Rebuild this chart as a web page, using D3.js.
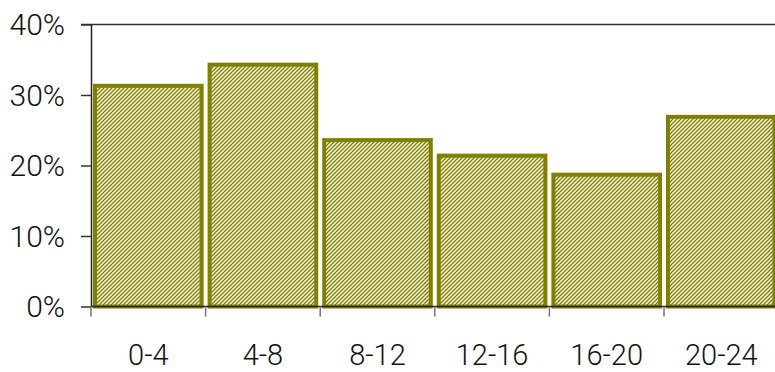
<!DOCTYPE html>
<html>
<head>
<meta charset="utf-8">
<script src="https://cdn.jsdelivr.net/npm/d3@7"></script>
<style>
  html, body { margin: 0; padding: 0; background: #fff; }
  svg { display: block; }
  text { font-family: Roboto, "Liberation Sans", sans-serif; font-weight: 300; fill: #111; }
</style>
</head>
<body>
<svg id="chart" width="775" height="372"></svg>
<script>
// Share of events by 4-hour interval of the day
const categories = ["0-4", "4-8", "8-12", "12-16", "16-20", "20-24"];
const values = [0.313, 0.343, 0.236, 0.214, 0.187, 0.269];
const yTicks = [0, 0.1, 0.2, 0.3, 0.4];

const svg = d3.select("#chart");
const plotLeft = 91, plotRight = 778.6, plotTop = 24.5, plotBottom = 306.5;

const x = d3.scaleBand().domain(categories).range([plotLeft, plotRight]).padding(0);
const y = d3.scaleLinear().domain([0, 0.4]).range([plotBottom, plotTop]);

// Hatched fill: olive upward diagonal on pale ground
const defs = svg.append("defs");
const pat = defs.append("pattern")
  .attr("id", "hatch")
  .attr("patternUnits", "userSpaceOnUse")
  .attr("width", 4).attr("height", 4);
pat.append("rect").attr("width", 4).attr("height", 4).attr("fill", "#f6f6e2");
pat.append("path")
  .attr("d", "M-1,1 l2,-2 M0,4 l4,-4 M3,5 l2,-2")
  .attr("stroke", "#808000").attr("stroke-width", 1.3);

// Bars
svg.append("g").selectAll("rect")
  .data(values)
  .join("rect")
  .attr("x", (d, i) => x(categories[i]) + 4)
  .attr("width", x.bandwidth() - 8)
  .attr("y", d => y(d))
  .attr("height", d => plotBottom - y(d))
  .attr("fill", "url(#hatch)")
  .attr("stroke", "#808000")
  .attr("stroke-width", 4);

// Top border line at the 40% level
svg.append("line")
  .attr("x1", plotLeft - 10).attr("x2", 775)
  .attr("y1", y(0.4)).attr("y2", y(0.4))
  .attr("stroke", "#333").attr("stroke-width", 1.5);

// Y axis
const yAxis = svg.append("g")
  .attr("transform", `translate(${plotLeft},0)`)
  .call(d3.axisLeft(y).tickValues(yTicks).tickSize(10).tickSizeOuter(0)
    .tickFormat(d3.format(".0%")));
yAxis.select(".domain").attr("stroke", "#222").attr("stroke-width", 1.5);
yAxis.selectAll(".tick line").attr("stroke", "#333").attr("stroke-width", 1.5);
yAxis.selectAll(".tick text")
  .attr("x", -26).attr("dy", "0.34em")
  .style("font-size", "30px").style("font-family", "Roboto, sans-serif")
  .style("font-weight", 300)
  .attr("fill", "#111");

// X axis with ticks at category boundaries
svg.append("line")
  .attr("x1", plotLeft).attr("x2", 775)
  .attr("y1", plotBottom).attr("y2", plotBottom)
  .attr("stroke", "#222").attr("stroke-width", 1.5);
const bounds = categories.map(c => x(c)).concat([plotRight]);
svg.append("g").selectAll("line")
  .data(bounds)
  .join("line")
  .attr("x1", d => d).attr("x2", d => d)
  .attr("y1", plotBottom).attr("y2", plotBottom + 10)
  .attr("stroke", "#777").attr("stroke-width", 1.5);
svg.append("g").selectAll("text")
  .data(categories)
  .join("text")
  .attr("x", d => x(d) + x.bandwidth() / 2)
  .attr("y", 365)
  .attr("text-anchor", "middle")
  .style("font-size", "29px")
  .text(d => d);
</script>
</body>
</html>
